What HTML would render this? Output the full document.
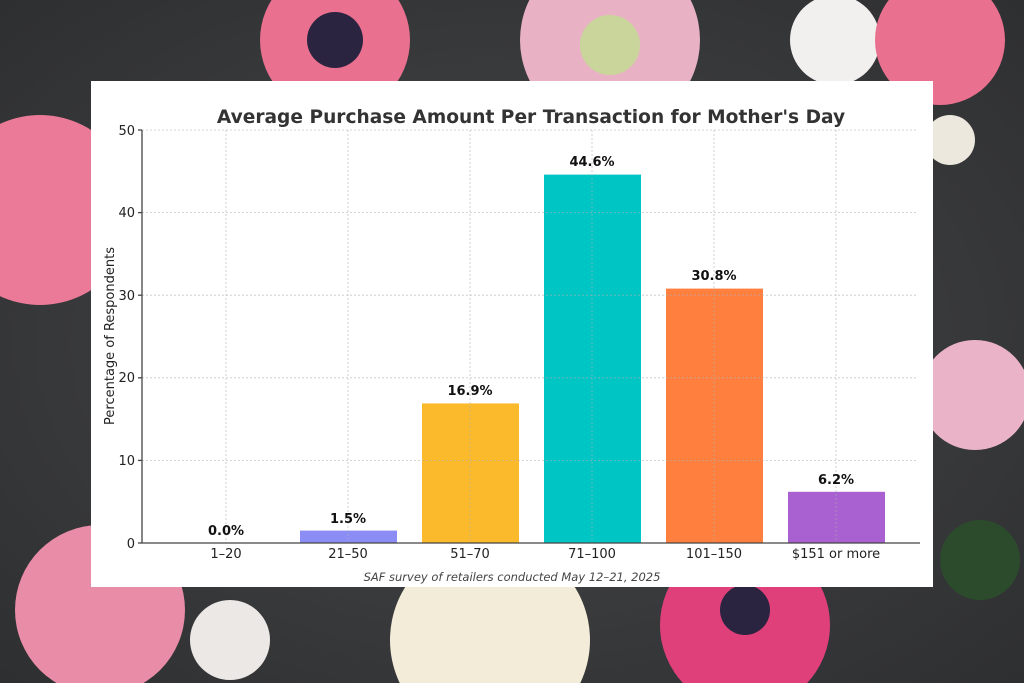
<!DOCTYPE html>
<html><head><meta charset="utf-8"><style>
html,body{margin:0;padding:0;width:1024px;height:683px;overflow:hidden;background:#3a3b3d}
svg{display:block;position:absolute;left:0;top:0}
text{font-family:"DejaVu Sans","Liberation Sans",sans-serif}
</style></head><body>
<svg width="1024" height="683" viewBox="0 0 1024 683" overflow="hidden">
<defs>
<radialGradient id="bg" cx="50%" cy="50%" r="70%"><stop offset="0" stop-color="#47484a"/><stop offset="1" stop-color="#2e2f31"/></radialGradient>
<clipPath id="c"><rect width="1024" height="683"/></clipPath>
</defs>
<g clip-path="url(#c)">
<rect width="1024" height="683" fill="url(#bg)"/>
<circle cx="335" cy="40" r="75" fill="#e9708f"/><circle cx="335" cy="40" r="28" fill="#2a2440"/>
<circle cx="610" cy="40" r="90" fill="#e8b2c4"/><circle cx="610" cy="45" r="30" fill="#c9d59a"/>
<circle cx="835" cy="40" r="45" fill="#f2f0ee"/>
<circle cx="940" cy="40" r="65" fill="#e9708f"/>
<circle cx="40" cy="210" r="95" fill="#ea7a98"/>
<circle cx="975" cy="395" r="55" fill="#eab3c8"/>
<circle cx="100" cy="610" r="85" fill="#e98ca8"/>
<circle cx="230" cy="640" r="40" fill="#ece8e6"/>
<circle cx="490" cy="640" r="100" fill="#f3ecd8"/>
<circle cx="745" cy="625" r="85" fill="#e0407a"/><circle cx="745" cy="610" r="25" fill="#2a2440"/>
<circle cx="980" cy="560" r="40" fill="#2c4a2c"/>
<circle cx="950" cy="140" r="25" fill="#ece8dd"/>
</g>
<rect x="91" y="81" width="842" height="506" fill="#fff"/>
<text x="531" y="123" text-anchor="middle" font-size="18.6" font-weight="bold" fill="#333">Average Purchase Amount Per Transaction for Mother's Day</text>
<rect x="300" y="530.6" width="97" height="12.4" fill="#8c8cf5"/>
<rect x="422" y="403.4" width="97" height="139.6" fill="#fbb92c"/>
<rect x="544" y="174.6" width="97" height="368.4" fill="#00c5c5"/>
<rect x="666" y="288.6" width="97" height="254.4" fill="#ff7f3f"/>
<rect x="788" y="491.8" width="97" height="51.2" fill="#a960d0"/>
<g stroke="#b0b0b0" stroke-width="0.8" stroke-dasharray="2,2" opacity="0.7">
<line x1="142" x2="918" y1="130" y2="130"/><line x1="142" x2="918" y1="212.6" y2="212.6"/><line x1="142" x2="918" y1="295.2" y2="295.2"/><line x1="142" x2="918" y1="377.8" y2="377.8"/><line x1="142" x2="918" y1="460.4" y2="460.4"/>
<line x1="226" x2="226" y1="130" y2="543"/><line x1="348" x2="348" y1="130" y2="543"/><line x1="470" x2="470" y1="130" y2="543"/><line x1="592" x2="592" y1="130" y2="543"/><line x1="714" x2="714" y1="130" y2="543"/><line x1="836" x2="836" y1="130" y2="543"/>
</g>
<g stroke="#444" stroke-width="1.3">
<line x1="142" x2="142" y1="130" y2="543"/><line x1="142" x2="920" y1="543" y2="543"/>
<line x1="138" x2="142" y1="130" y2="130"/><line x1="138" x2="142" y1="212.6" y2="212.6"/><line x1="138" x2="142" y1="295.2" y2="295.2"/><line x1="138" x2="142" y1="377.8" y2="377.8"/><line x1="138" x2="142" y1="460.4" y2="460.4"/><line x1="138" x2="142" y1="543" y2="543"/>
</g>
<g font-size="13" fill="#222" text-anchor="end">
<text x="135" y="135">50</text><text x="135" y="217">40</text><text x="135" y="300">30</text><text x="135" y="382">20</text><text x="135" y="465">10</text><text x="135" y="548">0</text>
</g>
<g font-size="13" fill="#222" text-anchor="middle">
<text x="226" y="558">1–20</text><text x="348" y="558">21–50</text><text x="470" y="558">51–70</text><text x="592" y="558">71–100</text><text x="714" y="558">101–150</text><text x="836" y="558">$151 or more</text>
</g>
<g font-size="13" font-weight="bold" fill="#111" text-anchor="middle">
<text x="226" y="535">0.0%</text><text x="348" y="523">1.5%</text><text x="470" y="395">16.9%</text><text x="592" y="166">44.6%</text><text x="714" y="280">30.8%</text><text x="836" y="484">6.2%</text>
</g>
<text transform="translate(114,336) rotate(-90)" text-anchor="middle" font-size="13" fill="#222">Percentage of Respondents</text>
<text x="512" y="581" text-anchor="middle" font-size="11.5" font-style="italic" fill="#444">SAF survey of retailers conducted May 12–21, 2025</text>
</svg>
</body></html>
